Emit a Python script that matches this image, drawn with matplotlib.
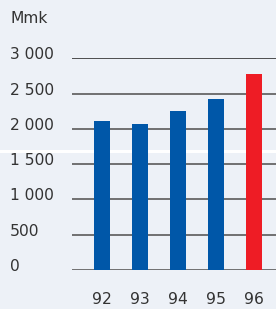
import matplotlib.pyplot as plt
import matplotlib.transforms as mtransforms
from matplotlib.patches import Rectangle

years = ['92', '93', '94', '95', '96']
values = [2110, 2070, 2255, 2420, 2780]
bar_colors = ['#0057a8', '#0057a8', '#0057a8', '#0057a8', '#ee1c25']
y_ticks = [0, 500, 1000, 1500, 2000, 2500, 3000]
y_labels = ['0', '500', '1 000', '1 500', '2 000', '2 500', '3 000']
unit = 'Mmk'

W, H = 276, 309
bg = '#edf1f7'
txt = '#333333'

fig = plt.figure(figsize=(W / 100, H / 100), dpi=100, facecolor=bg)
plt.rcParams['font.family'] = ['DejaVu Sans']

# axes: 0 at y=270px, 3000 at y=58.3px, x from 71.7px to right edge
ax = fig.add_axes([71.7 / W, (H - 270) / H, (W - 71.7) / W, (270 - 58.3) / H])
ax.patch.set_visible(False)
for s in ax.spines.values():
    s.set_visible(False)

# white stripe across the figure
fig.patches.append(Rectangle((0, (H - 153) / H), 1, 3.5 / H, transform=fig.transFigure,
                             facecolor='white', edgecolor='none', zorder=-1))

for t in y_ticks:
    ax.axhline(t, color='#222222' if t == 3000 else '#666666',
               lw=1.1 if t == 3000 else 1.3, zorder=1)

x = list(range(len(years)))
ax.bar(x, values, width=16 / 38, color=bar_colors, zorder=2)

ax.set_xlim(-30.3 / 38, (W - 102) / 38)
ax.set_ylim(0, 3000)
ax.set_xticks([])
ax.set_yticks([])

# y labels, left aligned at 10px, sitting slightly above the lines
lab_trans = mtransforms.blended_transform_factory(fig.transFigure, ax.transData)
lab_trans = mtransforms.offset_copy(lab_trans, fig=fig, y=3.5, units='dots')
for t, lab in zip(y_ticks, y_labels):
    ax.text(10 / W, t, lab, transform=lab_trans, ha='left', va='center',
            fontsize=11.2, color=txt)

# x labels
xl_trans = mtransforms.blended_transform_factory(ax.transData, fig.transFigure)
for xi, yr in zip(x, years):
    ax.text(xi, (H - 300) / H, yr, transform=xl_trans, ha='center', va='center',
            fontsize=11.2, color=txt)

fig.text(10 / W, (H - 18.5) / H, unit, ha='left', va='center', fontsize=11.2, color=txt)

fig.savefig('out.png', dpi=100, facecolor=bg)
